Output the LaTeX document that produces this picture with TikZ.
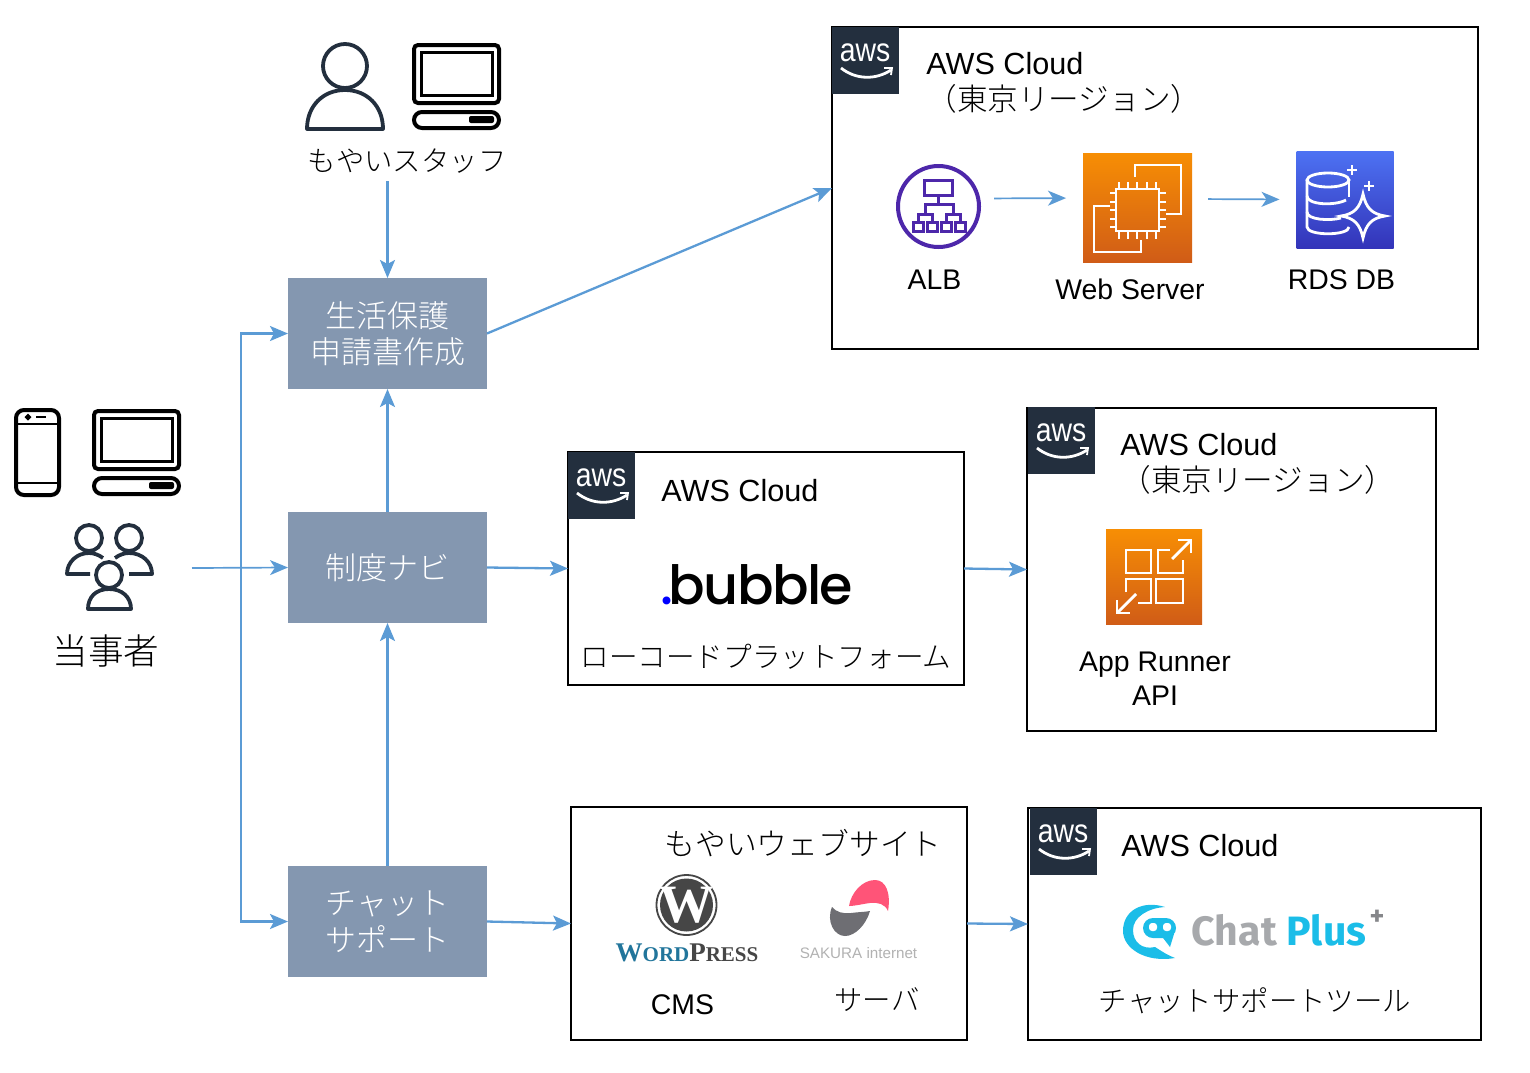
\documentclass[tikz,border=0pt]{standalone}
\usepackage{fontspec}
\setmainfont{Liberation Sans}
\newfontfamily\jp{Noto Sans CJK JP Light}
\newfontfamily\awsfont[FakeStretch=0.86]{Liberation Sans}
\newfontfamily\logofont[LetterSpace=-3]{Poppins Medium}
\newfontfamily\wpfont{Liberation Serif}
\newfontfamily\chatfont{Fira Sans}
\usetikzlibrary{arrows.meta}

\definecolor{funcblue}{HTML}{8497B0}
\definecolor{linkblue}{HTML}{5B9BD5}
\definecolor{awsdark}{HTML}{232F3E}
\definecolor{albpurple}{HTML}{4D27AA}
\definecolor{orangetop}{HTML}{F78E04}
\definecolor{orangelow}{HTML}{D05C17}
\definecolor{rdstop}{HTML}{4D72F3}
\definecolor{rdslow}{HTML}{3334B9}
\definecolor{wpblue}{HTML}{21759B}
\definecolor{wpgray}{HTML}{464646}
\definecolor{sakurapink}{HTML}{FF5478}
\definecolor{sakuragray}{HTML}{6E6E73}
\definecolor{chatcyan}{HTML}{1BBDE8}
\definecolor{chatgray}{HTML}{A7A9AC}

\tikzstyle{func} = [minimum height=55.5pt, minimum width=99.5pt,rectangle,outer sep=0pt,fill=funcblue,text=white,align=center,font=\jp\fontsize{15.5}{18.2}\selectfont]
\tikzstyle{cloudbox} = [rectangle,outer sep=0pt,style={fill=white,draw=black,line width=1.2pt}]
\tikzstyle{badge} = [minimum size=33.5pt,rectangle,inner sep=0pt,outer sep=0pt,fill=awsdark]
\tikzstyle{badgetext} = [text=white,inner sep=0pt,font=\awsfont\fontsize{16.5}{18}\selectfont]
\tikzstyle{latin} = [inner sep=0pt,font=\fontsize{14.2}{17}\selectfont]
\tikzstyle{title} = [inner sep=0pt,anchor=west,align=left,font=\fontsize{15.3}{18}\selectfont]
\tikzstyle{kana} = [inner sep=0pt,font=\jp\fontsize{14.2}{17}\selectfont]
\tikzstyle{flow} = [-{Stealth[length=9pt,width=7.5pt,inset=2pt]},draw=linkblue,line width=1.15pt]
\tikzstyle{thinflow} = [-{Stealth[length=9pt,width=7.5pt,inset=2.5pt]},draw=linkblue,line width=0.85pt]
\tikzstyle{iconline} = [draw=black,line width=2pt,rounded corners=2pt]
\tikzstyle{userline} = [draw=awsdark,line width=1.9pt,line join=round]
\tikzstyle{whiteline} = [draw=white,line width=1.4pt]
\tikzstyle{albline} = [draw=albpurple,line width=1.5pt]
\tikzstyle{orangebox} = [rectangle,outer sep=0pt,top color=orangetop,bottom color=orangelow]
\tikzstyle{rdsbox} = [rectangle,outer sep=0pt,top color=rdstop,bottom color=rdslow]

\newcommand{\awsbadge}[3]{
	\node[badge] at (#1+33.5,#2+33.5) (#3) {};
	\node[badgetext] at (#1+33,#2+26) (#3text) {aws};
	\draw[whiteline] (#1+9,#2+41) .. controls (#1+24,#2+53) and (#1+44,#2+53) .. (#1+59,#2+43);
	\draw[whiteline,line width=0.9pt] (#1+52,#2+41) -- (#1+60,#2+41) -- (#1+59,#2+48);
}
\newcommand{\desktop}[2]{
	\draw[iconline] (#1+2,#2+2) rectangle (#1+87,#2+60);
	\draw[iconline,line width=1.5pt,rounded corners=0pt] (#1+9,#2+9) rectangle (#1+80,#2+52);
	\draw[iconline,rounded corners=4pt] (#1+2,#2+69) rectangle (#1+87,#2+85);
	\fill[black,rounded corners=1pt] (#1+57,#2+73) rectangle (#1+82,#2+80);
}

\begin{document}
\begin{tikzpicture}[auto, x=0.5pt, y=-0.5pt]
	\useasboundingbox (0,0) rectangle (1530,1072);

% Cloud frames
	\node[cloudbox,minimum width=323pt,minimum height=161pt] at (1155,188) (cloudmain) {};
	\node[cloudbox,minimum width=198pt,minimum height=116.5pt] at (766,568.5) (cloudbubble) {};
	\node[cloudbox,minimum width=204.5pt,minimum height=161.5pt] at (1231.5,569.5) (cloudrunner) {};
	\node[cloudbox,minimum width=198pt,minimum height=116.5pt] at (769,923.5) (sitebox) {};
	\node[cloudbox,minimum width=226.5pt,minimum height=116pt] at (1254.5,924) (cloudchat) {};
	\awsbadge{832}{27}{awsmain}
	\awsbadge{568}{452}{awsbubble}
	\awsbadge{1028}{407}{awsrunner}
	\awsbadge{1030}{808}{awschat}

% Function boxes
	\node[func] at (387.5,333.5) (apply) {生活保護\\申請書作成};
	\node[func] at (387.5,567.5) (navi) {制度ナビ};
	\node[func] at (387.5,921.5) (chat) {チャット\\サポート};

% Staff
	\draw[userline] (345,66) circle [radius=22];
	\draw[userline] (307,129) .. controls (307,106) and (323,90) .. (345,90) .. controls (367,90) and (383,106) .. (383,129) -- cycle;
	\desktop{412}{43}
	\node[kana] at (407,161) (staff) {もやいスタッフ};

% People concerned
	\draw[iconline,rounded corners=4pt] (16,410) rectangle (59,495);
	\draw[iconline,line width=1pt,rounded corners=0pt] (16,424) -- (59,424);
	\draw[iconline,line width=1pt,rounded corners=0pt] (16,483) -- (59,483);
	\draw[iconline,line width=1.2pt] (28,417) circle [radius=1.8];
	\draw[iconline,line width=1.2pt] (36,417) -- (46,417);
	\desktop{92}{409}
	\draw[userline] (89,538) circle [radius=13];
	\draw[userline] (129,538) circle [radius=13];
	\draw[userline] (109,575) circle [radius=13];
	\draw[userline] (88,609) .. controls (88,597) and (96,589) .. (109,589) .. controls (122,589) and (131,597) .. (131,609) -- cycle;
	\draw[userline] (90,574) -- (67,574) .. controls (67,562) and (77,553) .. (89,553) .. controls (94,553) and (99,555) .. (103,558);
	\draw[userline] (129,574) -- (152,574) .. controls (152,562) and (142,553) .. (129,553) .. controls (124,553) and (119,555) .. (115,558);
	\node[kana,font=\jp\fontsize{17.8}{20}\selectfont] at (106,651) (person) {当事者};

% Main cloud
	\node[title] at (926,83) (titlemain) {AWS Cloud\\{\jp\fontsize{15.3}{18}\selectfont （東京リージョン）}};
	\node[circle,minimum size=40.5pt,inner sep=0pt,outer sep=0pt,draw=albpurple,line width=2pt,fill=white] at (938.5,206.5) (alb) {};
	\draw[albline] (924,180) rectangle (952,195);
	\draw[albline] (938,195) -- (938,204);
	\draw[albline] (925,214) -- (925,204) -- (953,204) -- (953,214);
	\draw[albline] (918,222) -- (918,214) -- (932,214) -- (932,222);
	\draw[albline] (946,222) -- (946,214) -- (960,214) -- (960,222);
	\draw[albline] (913,222) rectangle (923,231);
	\draw[albline] (927,222) rectangle (937,231);
	\draw[albline] (941,222) rectangle (951,231);
	\draw[albline] (955,222) rectangle (965,231);
	\node[latin] at (934.5,280) (alblabel) {ALB};

	\node[orangebox,minimum width=54.5pt,minimum height=54.5pt] at (1137.5,207.5) (web) {};
	\draw[whiteline] (1116,189) rectangle (1159,231);
	\draw[whiteline] (1135,177) -- (1135,165) -- (1181,165) -- (1181,214) -- (1166,214);
	\draw[whiteline] (1110,206) -- (1094,206) -- (1094,252) -- (1141,252) -- (1141,240);
	\draw[whiteline] (1119,189) -- (1119,182) (1128,189) -- (1128,182) (1137,189) -- (1137,182) (1147,189) -- (1147,182) (1156,189) -- (1156,182);
	\draw[whiteline] (1119,231) -- (1119,239) (1128,231) -- (1128,239) (1137,231) -- (1137,239) (1147,231) -- (1147,239) (1156,231) -- (1156,239);
	\draw[whiteline] (1116,193) -- (1110,193) (1116,202) -- (1110,202) (1116,210) -- (1110,210) (1116,219) -- (1110,219) (1116,227) -- (1110,227);
	\draw[whiteline] (1159,193) -- (1166,193) (1159,202) -- (1166,202) (1159,210) -- (1166,210) (1159,219) -- (1166,219) (1159,227) -- (1166,227);
	\node[latin] at (1130,289) (weblabel) {Web Server};

	\node[rdsbox,minimum width=48.5pt,minimum height=48.5pt] at (1345,199.5) (rds) {};
	\draw[whiteline] (1328,180) ellipse [x radius=21, y radius=7];
	\draw[whiteline] (1307,180) -- (1307,227) .. controls (1307,236) and (1349,236) .. (1349,227);
	\draw[whiteline] (1349,180) -- (1349,197);
	\draw[whiteline] (1307,196) .. controls (1307,205) and (1335,206) .. (1346,200);
	\draw[whiteline] (1307,212) .. controls (1307,220) and (1330,221) .. (1341,218);
	\draw[whiteline] (1363,194) .. controls (1366,208) and (1372,214) .. (1385,216) .. controls (1372,218) and (1366,224) .. (1363,238) .. controls (1360,224) and (1354,218) .. (1341,216) .. controls (1354,214) and (1360,208) .. (1363,194) -- cycle;
	\draw[whiteline] (1352,165) -- (1352,175) (1347,170) -- (1357,170);
	\draw[whiteline] (1369,181) -- (1369,191) (1364,186) -- (1374,186);
	\node[latin] at (1341.5,280) (rdslabel) {RDS DB};

% Bubble cloud
	\node[title] at (661,491) (titlebubble) {AWS Cloud};
	\node[inner sep=0pt,font=\logofont\fontsize{27}{30}\selectfont] at (757,585) (bubblelogo) {\textcolor{blue}{.}\kern-2.5pt bubble};
	\node[kana,font=\jp\fontsize{14.3}{17}\selectfont] at (766,657) (bubblelabel) {ローコードプラットフォーム};

% Runner cloud
	\node[title] at (1120,464) (titlerunner) {AWS Cloud\\{\jp\fontsize{15.3}{18.6}\selectfont （東京リージョン）}};
	\node[orangebox,minimum width=48pt,minimum height=47.5pt] at (1154,577) (runner) {};
	\draw[whiteline] (1126,550) rectangle (1151,573);
	\draw[whiteline] (1170,550) -- (1158,550) -- (1158,573) -- (1183,573) -- (1183,560);
	\draw[whiteline] (1126,592) -- (1126,579) -- (1151,579) -- (1151,603) -- (1138,603);
	\draw[whiteline] (1156,579) rectangle (1183,603);
	\draw[whiteline] (1172,559) -- (1191,540);
	\draw[whiteline] (1178,540) -- (1191,540) -- (1191,553);
	\draw[whiteline] (1136,594) -- (1117,613);
	\draw[whiteline] (1117,600) -- (1117,613) -- (1130,613);
	\node[latin,align=center,font=\fontsize{14.2}{16.8}\selectfont] at (1155,679) (runnerlabel) {App Runner\\API};

% Web site
	\node[kana,font=\jp\fontsize{15.4}{17}\selectfont] at (803,843) (sitetitle) {もやいウェブサイト};
	\node[circle,minimum size=26.5pt,inner sep=0pt,outer sep=0pt,fill=wpgray] at (686.5,905) (wplogo) {};
	\draw[wpgray,line width=0.9pt] (wplogo) circle [radius=30];
	\node[inner sep=0pt,text=white,font=\wpfont\bfseries\fontsize{27}{27}\selectfont] at (686.5,905) (wpmark) {W};
	\node[inner sep=0pt,font=\wpfont\bfseries\fontsize{13.5}{14}\selectfont] at (687,953) (wpname) {\textcolor{wpblue}{W{\fontsize{10.5}{14}\selectfont ORD}}\textcolor{wpgray}{P{\fontsize{10.5}{14}\selectfont RESS}}};
	\node[latin] at (682.5,1005) (cms) {CMS};
	\fill[sakurapink] (849,906) .. controls (851,893) and (862,880) .. (875,880) .. controls (886,880) and (891,893) .. (888,911) .. controls (885,904) and (878,902) .. (870,903) .. controls (862,904) and (855,906) .. (849,906) -- cycle;
	\fill[sakuragray] (832,907) .. controls (836,912) and (843,914) .. (851,913) .. controls (858,912) and (865,912) .. (870,911) .. controls (866,925) and (855,936) .. (845,936) .. controls (834,936) and (826,921) .. (832,907) -- cycle;
	\node[inner sep=0pt,text=black!30,font=\fontsize{7.6}{9}\selectfont] at (858.5,953) (sakuraname) {SAKURA internet};
	\node[kana] at (877,1000) (server) {サーバ};

% Chat cloud
	\node[title] at (1121,846) (titlechat) {AWS Cloud};
	\fill[chatcyan] (1165,907) .. controls (1143,900) and (1123,910) .. (1123,931) .. controls (1123,948) and (1145,963) .. (1175,958) .. controls (1165,954) and (1160,950) .. (1155,947) .. controls (1142,950) and (1133,942) .. (1133,930) .. controls (1133,917) and (1148,908) .. (1165,907) -- cycle;
	\fill[chatcyan,rounded corners=5pt] (1143,918) rectangle (1176,938);
	\fill[chatcyan] (1160,934) -- (1174,934) -- (1170,947) -- cycle;
	\fill[white,rounded corners=1.5pt] (1149,923) rectangle (1157,931);
	\fill[white,rounded corners=1.5pt] (1163,923) rectangle (1171,931);
	\node[inner sep=0pt,font=\chatfont\bfseries\fontsize{20.5}{22}\selectfont] at (1279,930) (chatname) {\textcolor{chatgray}{Chat} \textcolor{chatcyan}{Plus}};
	\node[inner sep=0pt,text=chatgray!80!black,font=\chatfont\bfseries\fontsize{14}{14}\selectfont] at (1377,918) (chatplus) {+};
	\node[kana] at (1255,1001) (chatlabel) {チャットサポートツール};

% Free ends of the connectors
	\coordinate (staffout) at (387.5,181);
	\coordinate (userout) at (192,568);
	\coordinate (branch) at (241,568);

% Connectors
	\draw[flow] (staffout) -- (apply.north);
	\draw[thinflow] (userout) -- (navi.west);
	\draw[flow] (branch) |- (apply.west);
	\draw[flow] (branch) |- (chat.west);
	\draw[flow] (navi.north) -- (apply.south);
	\draw[flow] (chat.north) -- (navi.south);
	\draw[flow] (apply.east) -- (cloudmain.west);
	\draw[flow] (navi.east) -- (cloudbubble.west);
	\draw[flow] (cloudbubble.east) -- (cloudrunner.west);
	\draw[flow] (chat.east) -- (sitebox.west);
	\draw[flow] (sitebox.east) -- (cloudchat.west);
	\draw[thinflow,shorten <=7.5pt,shorten >=8.5pt] ([yshift=4pt]alb.east) -- ([yshift=4.75pt]web.west);
	\draw[thinflow,shorten <=8pt,shorten >=8.5pt] ([yshift=4.25pt]web.east) -- (rds.west);
\end{tikzpicture}
\end{document}
